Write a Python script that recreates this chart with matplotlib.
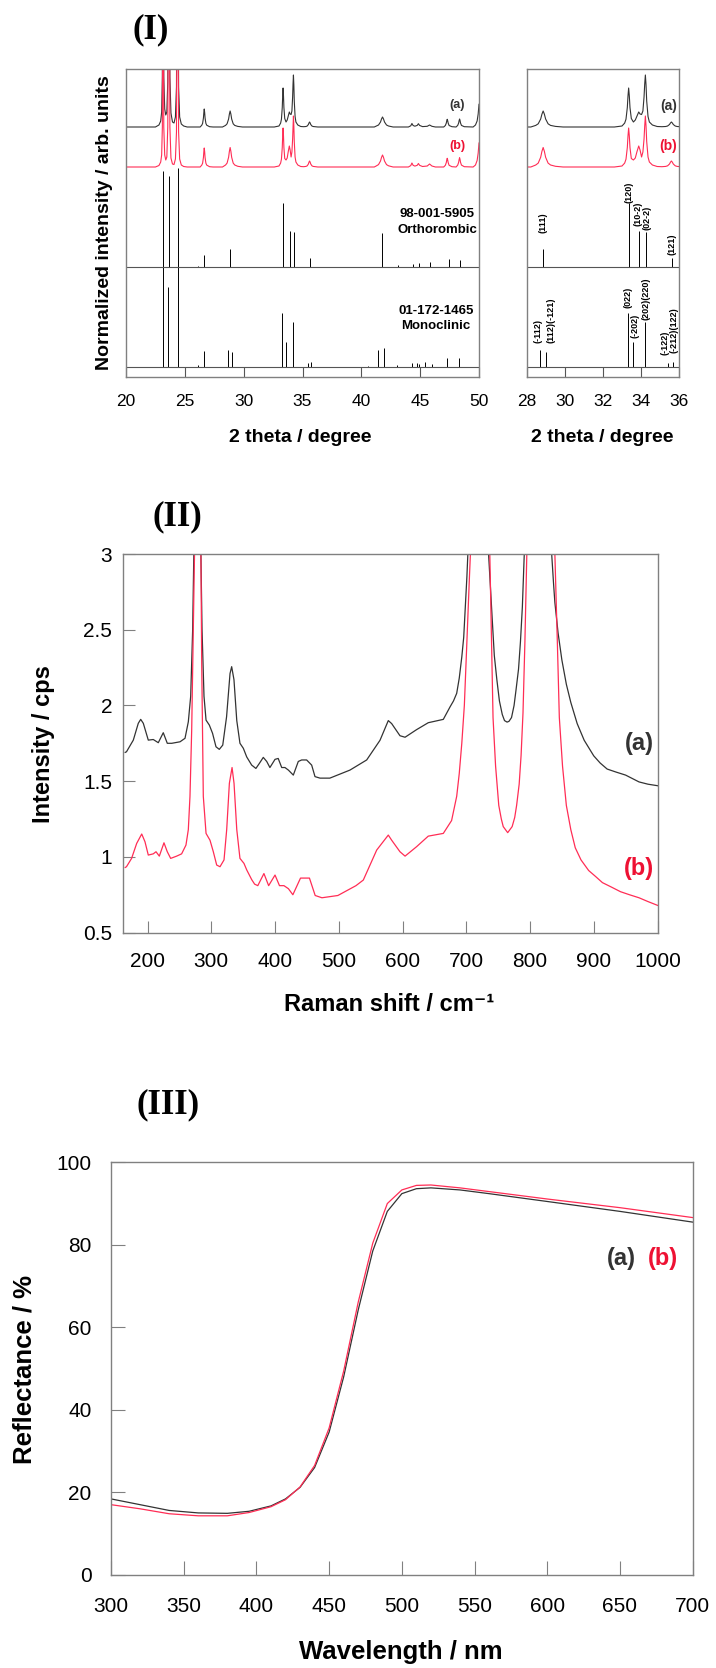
import numpy as np
import matplotlib.pyplot as plt

plt.rcParams['font.family'] = ['Liberation Sans', 'DejaVu Sans']

# ---------------- (I) XRD ----------------
xrd_2theta = [20.0, 22.5, 22.8, 22.95, 23.03, 23.09, 23.15, 23.21, 23.29, 23.38, 23.47, 23.55,
              23.65, 23.73, 23.82, 23.95, 24.08, 24.2, 24.29, 24.38, 24.47, 24.56, 24.7, 24.9,
              25.2,
              26.3, 26.44, 26.51, 26.58, 26.615, 26.65, 26.685, 26.72, 26.79, 26.86, 27.1, 27.4,
              28.2, 28.46, 28.59, 28.72, 28.785, 28.85, 28.915, 28.98, 29.11, 29.24, 29.5, 29.9,
              32.6, 33.0, 33.14, 33.21, 33.28, 33.315, 33.35, 33.385, 33.42, 33.49, 33.6, 33.7,
              33.79, 33.88, 33.95, 34.03, 34.1, 34.16, 34.195, 34.23, 34.265, 34.3, 34.37, 34.44,
              34.6, 34.85, 35.1,
              35.3, 35.4, 35.5, 35.55, 35.6, 35.65, 35.7, 35.8, 35.9, 36.3,
              41.1, 41.29, 41.46, 41.63, 41.715, 41.8, 41.885, 41.97, 42.14, 42.31, 42.7,
              44.0, 44.2, 44.3, 44.4, 44.55, 44.75, 44.85, 44.95, 45.2, 45.6, 45.8, 46.0, 46.3,
              47.0, 47.14, 47.22, 47.26, 47.3, 47.34, 47.38, 47.46, 47.7,
              48.05, 48.19, 48.27, 48.31, 48.35, 48.39, 48.43, 48.51, 48.75,
              49.5, 49.7, 49.84, 49.93, 50.0]
xrd_a = [0, 0, 2, 6, 15, 50, 300, 50, 18, 12, 15, 45,
         300, 50, 14, 5, 4, 10, 40, 300, 40, 10, 3, 1,
         0,
         0, 1.8, 3.6, 9, 14.4, 18, 14.4, 9, 3.6, 1.8, 0.3, 0,
         0, 1.6, 3.2, 8, 12.8, 16, 12.8, 8, 3.2, 1.6, 0.6, 0,
         0, 1, 3.9, 7.8, 19.5, 31, 39, 31, 19.5, 8.5, 5, 7,
         11, 15, 13, 12.5, 16, 30, 43, 52, 42, 26, 10.5, 5,
         2, 0.5, 0.3,
         0.5, 1.0, 2.5, 4, 5, 4, 2.5, 1.0, 0.5, 0,
         0, 1, 2, 5, 8, 10, 8, 5, 2, 1, 0,
         0, 1.2, 3.5, 1.5, 0.8, 1.6, 3.3, 1.6, 0.4, 0.7, 2, 0.7, 0,
         0, 1.5, 3.9, 6.2, 7.7, 6.2, 3.9, 1.5, 0.3,
         0, 1.6, 4, 6.4, 8, 6.4, 4, 1.6, 0.3,
         0, 2, 6, 13, 22.7]
xrd_b = [0, 0, 1.5, 5, 12, 40, 300, 40, 12, 7, 10, 40,
         300, 40, 9, 3, 2.5, 8, 35, 300, 35, 8, 2, 0.5,
         0,
         0, 1.9, 3.8, 9.5, 15.2, 19, 15.2, 9.5, 3.8, 1.9, 0.3, 0,
         0, 2, 3.9, 9.75, 15.6, 19.5, 15.6, 9.75, 3.9, 2, 0.7, 0,
         0, 1, 3.9, 7.8, 19.5, 31, 39, 31, 19.5, 8.5, 7, 9,
         15.5, 21, 17, 10, 15, 28, 41, 51, 41, 25.5, 10, 5,
         2, 0.5, 0.3,
         0.6, 1.2, 3, 4.8, 6, 4.8, 3, 1.2, 0.6, 0,
         0, 1.2, 2.4, 6, 9.6, 12, 9.6, 6, 2.4, 1.2, 0,
         0, 1.4, 4, 1.7, 0.9, 1.7, 3.5, 1.7, 0.5, 1, 3, 1, 0,
         0, 1.7, 4.4, 7, 8.7, 7, 4.4, 1.7, 0.3,
         0, 1.9, 4.7, 7.4, 9.3, 7.4, 4.7, 1.9, 0.3,
         0, 2, 6.5, 14, 24]

ortho_pos = [23.17, 23.66, 24.39, 26.09, 26.65, 28.86, 33.35, 33.91, 34.25, 35.62,
             41.78, 43.08, 44.41, 44.92, 45.83, 47.42, 48.38]
ortho_int = [96, 91, 99, 1.5, 12, 18, 64, 36, 35, 9, 34, 2, 3, 4, 5, 8, 7]

mono_pos = [23.14, 23.6, 24.39, 26.1, 26.6, 28.7, 28.98, 33.3, 33.59, 34.19, 35.44, 35.68,
            40.6, 41.44, 41.92, 43.0, 44.27, 44.7, 44.9, 45.4, 46.02, 47.3, 48.32, 50.0]
mono_int = [100, 80, 100, 2, 16, 17, 15, 54, 25, 45, 4, 5, 1, 17, 19, 2, 4, 4, 3, 5, 3, 9, 9, 19]

ortho_hkl = ['(111)', '(120)', '(10-2)', '(02-2)', '(121)']
mono_hkl = ['(-112)', '(112)(-121)', '(022)', '(-202)', '(202)(220)', '(-122)', '(-212)(122)']

# ---------------- (II) Raman ----------------
raman_shift_a = [165, 167, 177.7, 185.5, 189.3, 193.4, 201.2, 209, 216.9, 224.7, 231, 238, 251,
                 258.8, 264, 267.7, 270.8, 273, 278, 283.4, 285.5, 288.6, 291.8, 297, 302, 307.4,
                 312.6, 318, 324, 329.4, 332, 335.6, 340, 345, 350.3, 355.6, 363.4, 370, 375.4,
                 381.6, 387, 392, 400, 405, 410.5, 415.6, 421, 428.7, 436.5, 441.8, 449.6, 457.5,
                 462.7, 470.6, 486, 517.5, 543.8, 564.7, 577.7, 583, 596, 604, 622, 640.4, 664,
                 674.5, 680, 685, 689, 693, 696, 698, 701, 703,
                 720, 735, 741, 744, 748, 752, 756.5, 760, 764, 767, 771, 775, 778, 782, 785, 788,
                 791, 812, 834, 837, 839, 844, 850, 857, 864, 874, 885, 900, 910, 921, 935, 950,
                 971, 985, 1000]
raman_a = [1.69, 1.694, 1.771, 1.882, 1.908, 1.882, 1.771, 1.775, 1.754, 1.82, 1.75, 1.75, 1.76,
           1.783, 1.892, 2.06, 2.5, 3.1, 6.0, 3.1, 2.5, 2.06, 1.903, 1.87, 1.816, 1.727,
           1.71, 1.738, 1.925, 2.21, 2.256, 2.17, 1.90, 1.75, 1.717, 1.66, 1.606, 1.584, 1.617,
           1.657, 1.63, 1.59, 1.644, 1.65, 1.59, 1.59, 1.573, 1.54, 1.63, 1.64, 1.64, 1.606,
           1.53, 1.52, 1.52, 1.573, 1.64, 1.77, 1.90, 1.88, 1.80, 1.79, 1.84, 1.886, 1.908,
           1.99, 2.03, 2.08, 2.18, 2.32, 2.45, 2.61, 2.85, 3.05,
           6.0, 3.0, 2.55, 2.33, 2.17, 2.03, 1.94, 1.90, 1.89, 1.895, 1.92, 2.0, 2.10, 2.24, 2.42,
           2.65, 3.0, 6.0, 3.0, 2.8, 2.68, 2.48, 2.30, 2.14, 2.02, 1.88, 1.77, 1.667, 1.62, 1.58,
           1.56, 1.54, 1.495, 1.48, 1.47]

raman_shift_b = [165, 167, 175, 183, 190.9, 196, 201.2, 209, 213.3, 218.5, 225.8, 231, 236.3,
                 245.7, 253.5, 260.3, 264, 266.6, 269.3, 271.8, 274.5, 279, 283.4, 285, 287.5,
                 291.8, 298, 303.2, 308.5, 313.7, 320, 324.2, 328.4, 332.6, 335.7, 340, 345, 351.3,
                 355.6, 363.4, 368, 373, 382.6, 390, 400, 407, 414, 421, 428, 440, 448.5, 454, 463,
                 473.6, 498.6, 527, 538.5, 559.5, 577.7, 583, 596, 604, 622, 640.4, 664, 677, 685,
                 689, 693, 697, 700.7, 705, 708.5, 720, 736, 742, 746, 751, 755, 758, 765, 772, 776,
                 779, 783, 786, 789, 792, 795, 815, 839, 843, 846, 851, 857, 864, 871, 880, 892, 903,
                 913.6, 928, 942, 956, 971, 985, 1000]
raman_b = [0.93, 0.935, 0.99, 1.089, 1.151, 1.10, 1.012, 1.02, 1.034, 1.005, 1.093, 1.034, 0.99,
           1.005, 1.02, 1.078, 1.18, 1.40, 1.84, 2.5, 3.2, 6.0, 3.2, 2.28, 1.40,
           1.155, 1.11, 1.034, 0.946, 0.935, 0.98, 1.18, 1.486, 1.59, 1.486, 1.18, 0.99, 0.957,
           0.914, 0.85, 0.82, 0.81, 0.89, 0.81, 0.88, 0.81, 0.81, 0.79, 0.75, 0.86, 0.86, 0.86,
           0.745, 0.73, 0.745, 0.81, 0.847, 1.045, 1.144, 1.11, 1.034, 1.005, 1.067, 1.137,
           1.155, 1.24, 1.40, 1.55, 1.75, 2.0, 2.39, 2.85, 3.2, 6.0, 3.2, 1.92, 1.6, 1.34, 1.25,
           1.20, 1.16, 1.20, 1.26, 1.34, 1.48, 1.67, 1.95, 2.42, 3.0, 6.0, 3.0, 2.4, 1.92, 1.6,
           1.34, 1.18, 1.06, 0.98, 0.91, 0.87, 0.83, 0.80, 0.77, 0.75, 0.73, 0.705, 0.68]

# ---------------- (III) reflectance ----------------
wavelength = [300, 320, 340, 360, 380, 395, 410, 420, 430, 440, 450, 460, 470, 480, 490, 500,
              510, 520, 540, 560, 600, 650, 700]
refl_a = [18.4, 17.0, 15.6, 15.0, 14.9, 15.4, 16.7, 18.4, 21.2, 26.0, 34.6, 48.0, 64.2, 78.5,
          88.1, 92.4, 93.6, 93.8, 93.3, 92.4, 90.5, 88.1, 85.5]
refl_b = [17.0, 16.0, 14.8, 14.3, 14.3, 15.1, 16.5, 18.2, 21.3, 26.5, 35.6, 49.4, 66.1, 80.4,
          90.0, 93.3, 94.4, 94.5, 93.8, 92.9, 91.1, 89.0, 86.6]

BLACK = '#333333'
RED = '#ff2d55'
RED_TXT = '#ee1133'
SPINE = '#808080'
OFF_A, OFF_B, ORTHO_BASE = 240, 200, 100

W, H = 716, 1668
fig = plt.figure(figsize=(W / 100, H / 100), dpi=100)


def rect(l, t, r, b):
    return [l / W, 1 - b / H, (r - l) / W, (b - t) / H]


def frame(ax):
    for s in ax.spines.values():
        s.set_color(SPINE)
        s.set_linewidth(1.0)


# panel I
ax1 = fig.add_axes(rect(126, 69, 479, 377))
ax2 = fig.add_axes(rect(527, 69, 679, 377))
for ax, lim, step in [(ax1, (20, 50), 5), (ax2, (28, 36), 2)]:
    ax.plot(xrd_2theta, np.array(xrd_a) + OFF_A, color=BLACK, lw=0.8)
    ax.plot(xrd_2theta, np.array(xrd_b) + OFF_B, color=RED, lw=0.8)
    ax.vlines(ortho_pos, ORTHO_BASE, ORTHO_BASE + np.array(ortho_int), color='k', lw=0.7)
    ax.vlines(mono_pos, 0, mono_int, color='k', lw=0.7)
    ax.axhline(0, color='#555555', lw=0.8)
    ax.axhline(ORTHO_BASE, color='#555555', lw=0.8)
    ax.set_xlim(*lim)
    ax.set_ylim(-10, 298)
    ax.set_xticks(np.arange(lim[0], lim[1] + 0.1, step))
    ax.set_yticks([])
    ax.tick_params(axis='x', direction='in', length=7.2, width=0.8, color='#555555',
                   pad=12, labelsize=12.5)
    frame(ax)
    ax.set_xlabel('2 theta / degree', fontsize=14, fontweight='bold', va='center')
    ax.xaxis.set_label_coords(0.495, -0.197)

ax1.set_ylabel('Normalized intensity / arb. units', fontsize=14, fontweight='bold', va='center')
ax1.yaxis.set_label_coords(-0.0595, 0.50)
ax1.text(48.15, 262, '(a)', fontsize=9, fontweight='bold', color=BLACK, ha='center', va='center')
ax1.text(48.15, 221, '(b)', fontsize=9, fontweight='bold', color=RED_TXT, ha='center', va='center')
ax1.text(46.45, 153, '98-001-5905', fontsize=9.5, fontweight='bold', ha='center', va='center')
ax1.text(46.45, 137, 'Orthorombic', fontsize=9.5, fontweight='bold', ha='center', va='center')
ax1.text(46.35, 56, '01-172-1465', fontsize=9.5, fontweight='bold', ha='center', va='center')
ax1.text(46.35, 41, 'Monoclinic', fontsize=9.5, fontweight='bold', ha='center', va='center')

ax2.text(35.44, 261, '(a)', fontsize=10, fontweight='bold', color=BLACK, ha='center', va='center')
ax2.text(35.44, 221, '(b)', fontsize=10, fontweight='bold', color=RED_TXT, ha='center', va='center')
ortho_lbl_xy = [(28.86, 134), (33.35, 164), (33.84, 141), (34.31, 137), (35.62, 112)]
mono_lbl_xy = [(28.59, 24), (29.26, 24), (33.30, 59), (33.68, 29), (34.25, 47), (35.26, 12),
               (35.75, 14)]
for t, (x, y) in zip(ortho_hkl + mono_hkl, ortho_lbl_xy + mono_lbl_xy):
    ax2.text(x, y, t, fontsize=6.5, fontweight='bold', rotation=90, ha='center', va='bottom')

fig.text(151 / W, 1 - 30 / H, '(I)', family='Liberation Serif', fontsize=25,
         fontweight='bold', ha='center', va='center')

# panel II
ax3 = fig.add_axes(rect(123.3, 554, 657.5, 932.6))
ax3.plot(raman_shift_a, raman_a, color=BLACK, lw=0.9)
ax3.plot(raman_shift_b, raman_b, color=RED, lw=0.9)
ax3.set_xlim(162, 1000)
ax3.set_ylim(0.5, 3)
ax3.set_xticks(range(200, 1001, 100))
ax3.set_yticks([0.5, 1, 1.5, 2, 2.5, 3])
ax3.set_yticklabels(['0.5', '1', '1.5', '2', '2.5', '3'])
ax3.tick_params(direction='in', length=8.4, width=0.8, color=SPINE, labelsize=15)
ax3.tick_params(axis='x', pad=14)
ax3.tick_params(axis='y', pad=8)
frame(ax3)
ax3.set_xlabel('Raman shift / cm⁻¹', fontsize=17, fontweight='bold', va='center')
ax3.xaxis.set_label_coords(0.497, -0.19)
ax3.set_ylabel('Intensity / cps', fontsize=17, fontweight='bold', va='center')
ax3.yaxis.set_label_coords(-0.1496, 0.497)
ax3.text(971, 1.747, '(a)', fontsize=17, fontweight='bold', color=BLACK, ha='center', va='center')
ax3.text(971, 0.926, '(b)', fontsize=17, fontweight='bold', color=RED_TXT, ha='center', va='center')
fig.text(177 / W, 1 - 517 / H, '(II)', family='Liberation Serif', fontsize=25,
         fontweight='bold', ha='center', va='center')

# panel III
ax4 = fig.add_axes(rect(111, 1162.3, 692.7, 1574.8))
ax4.plot(wavelength, refl_a, color=BLACK, lw=0.9)
ax4.plot(wavelength, refl_b, color=RED, lw=0.9)
ax4.set_xlim(300, 700)
ax4.set_ylim(0, 100)
ax4.set_xticks(range(300, 701, 50))
ax4.set_yticks(range(0, 101, 20))
ax4.tick_params(direction='in', length=10, width=0.8, color=SPINE, labelsize=15)
ax4.tick_params(axis='x', pad=16)
ax4.tick_params(axis='y', pad=14)
frame(ax4)
ax4.set_xlabel('Wavelength / nm', fontsize=18.5, fontweight='bold', va='center')
ax4.xaxis.set_label_coords(0.498, -0.188)
ax4.set_ylabel('Reflectance / %', fontsize=18.5, fontweight='bold', va='center')
ax4.yaxis.set_label_coords(-0.148, 0.4965)
ax4.text(651, 76.6, '(a)', fontsize=17, fontweight='bold', color=BLACK, ha='center', va='center')
ax4.text(679.6, 76.6, '(b)', fontsize=17, fontweight='bold', color=RED_TXT, ha='center', va='center')
fig.text(168 / W, 1 - 1105 / H, '(III)', family='Liberation Serif', fontsize=25,
         fontweight='bold', ha='center', va='center')

fig.savefig('out.png', dpi=100)
